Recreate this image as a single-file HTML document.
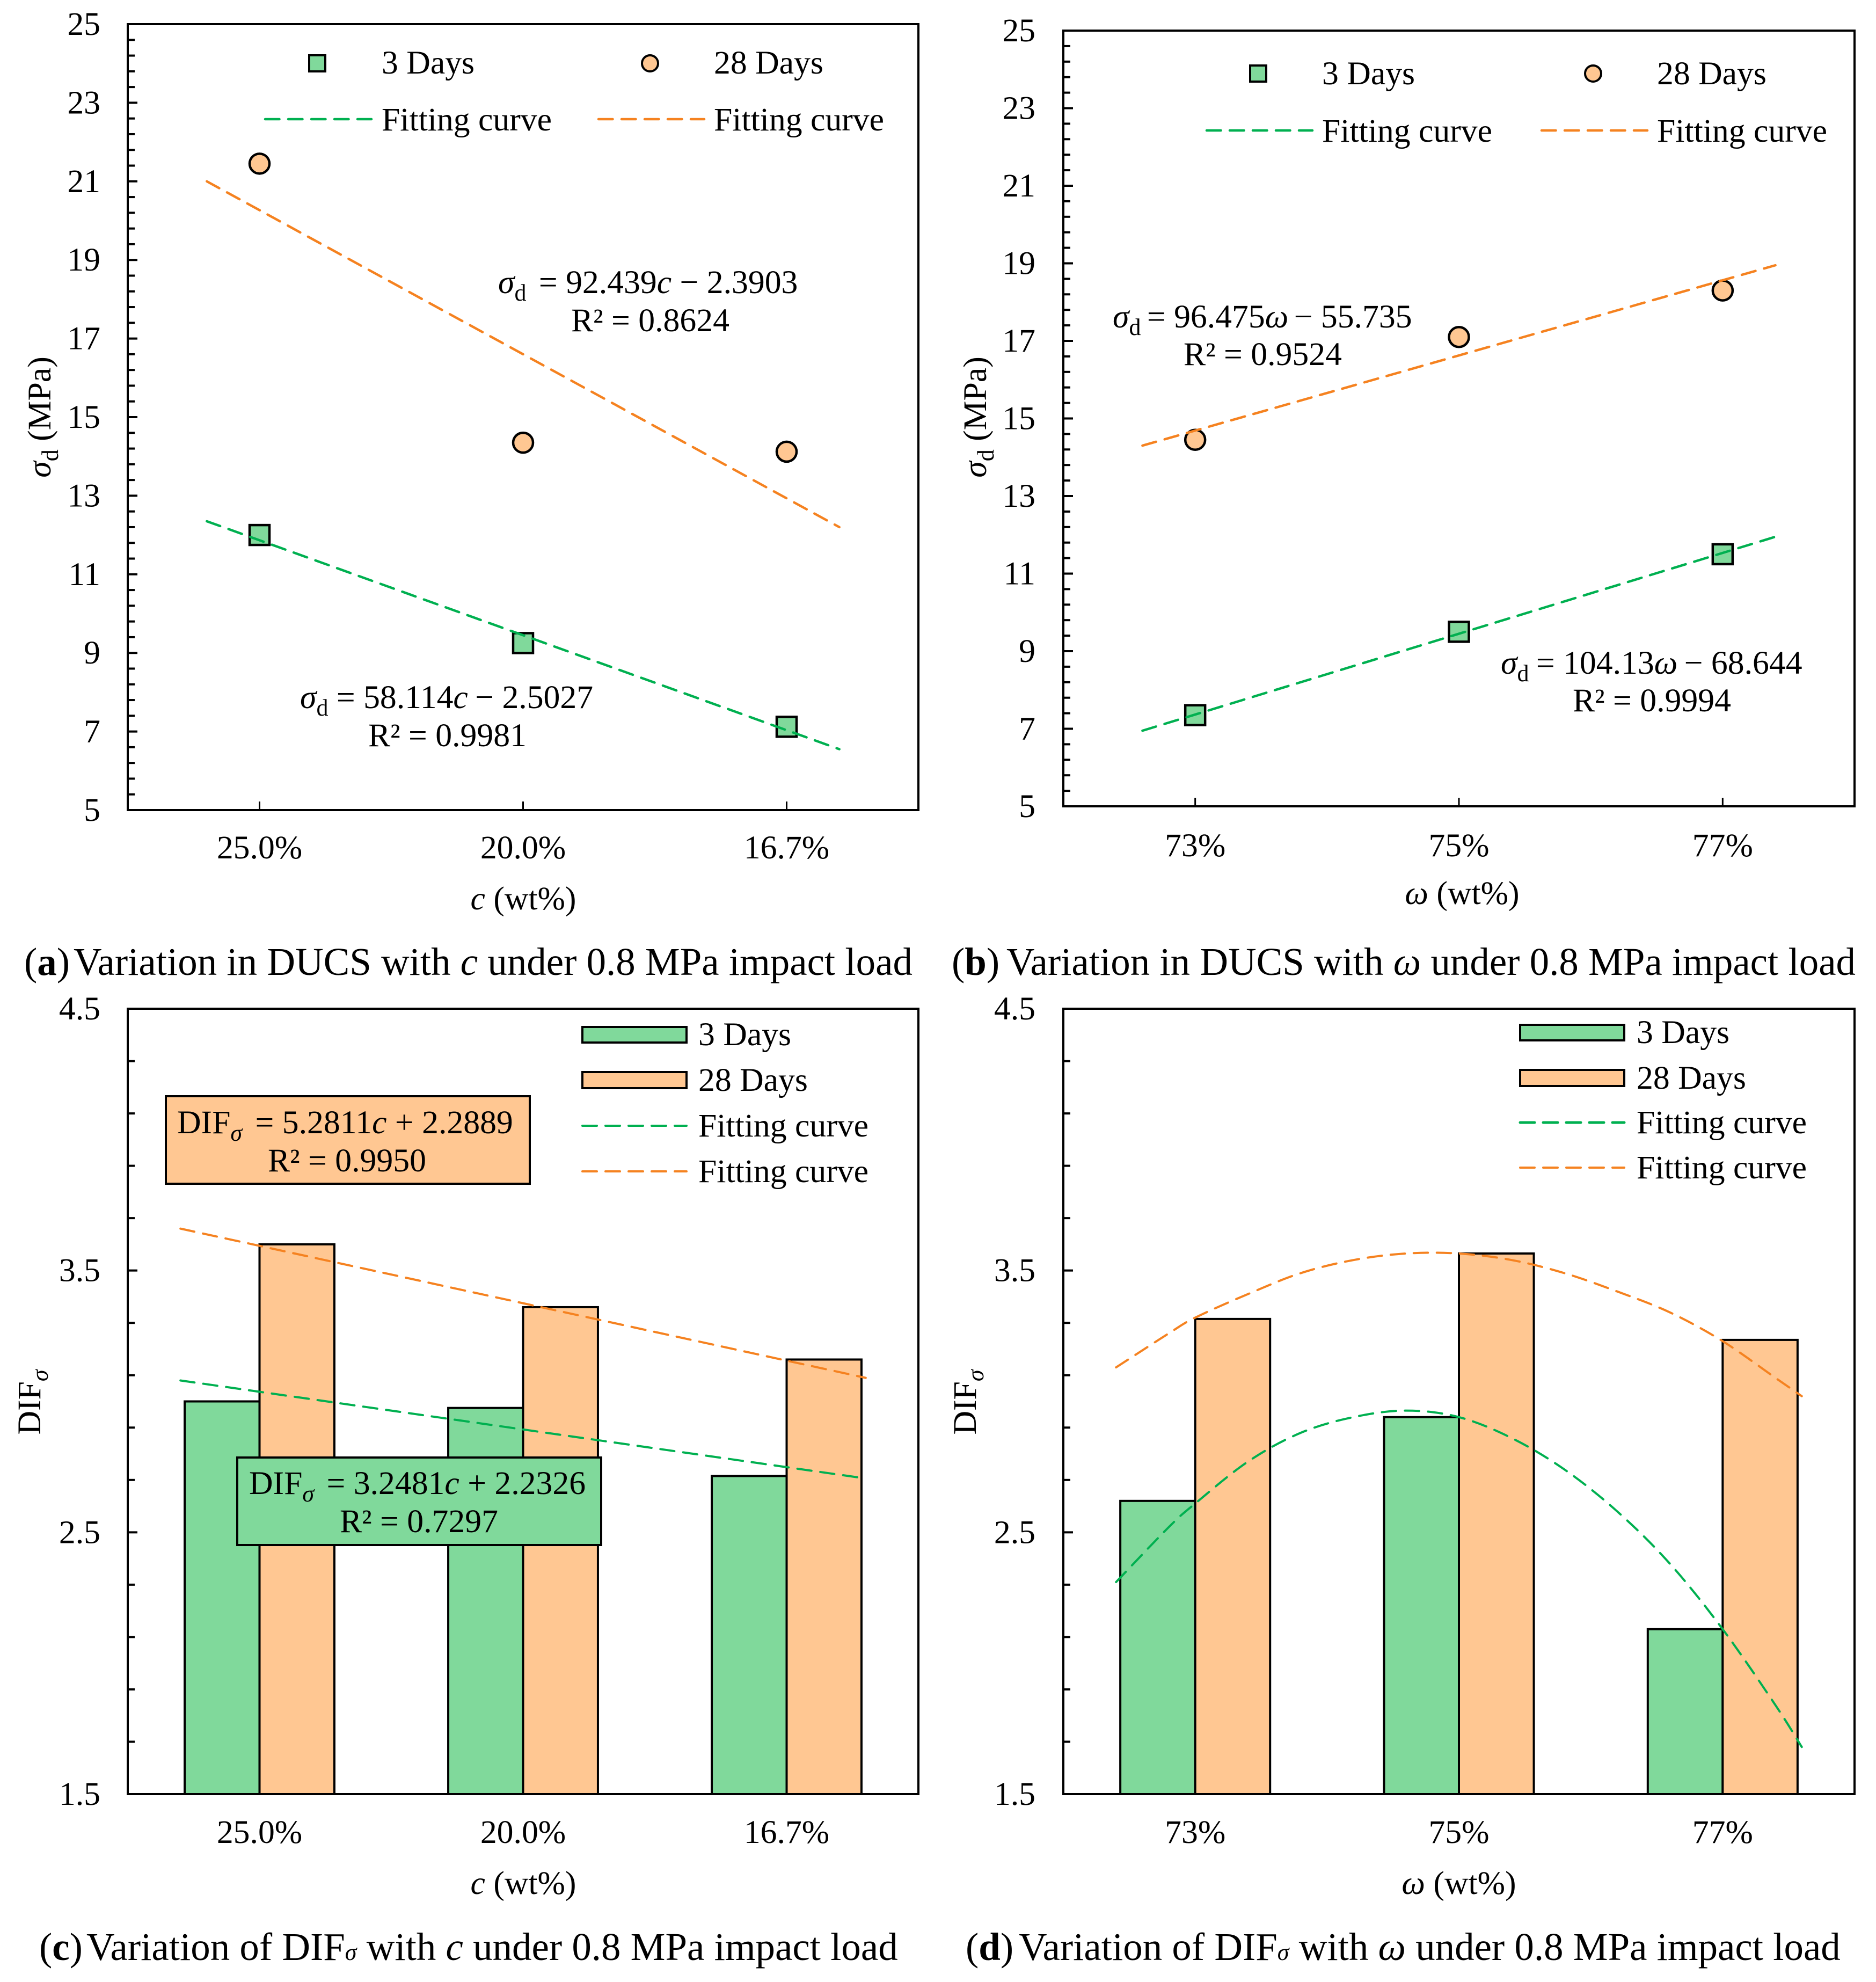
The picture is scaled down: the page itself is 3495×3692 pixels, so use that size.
<!DOCTYPE html>
<html>
<head>
<meta charset="utf-8">
<title>DUCS and DIF charts</title>
<style>
html,body{margin:0;padding:0;background:#fff;width:3495px;height:3692px;overflow:hidden}
svg{display:block}
text{font-family:"Liberation Serif",serif;fill:#000}
.t{font-size:61.7px}
.cap{font-size:72.9px}
.i{font-style:italic}
</style>
</head>
<body>
<svg id="fig" xmlns="http://www.w3.org/2000/svg" width="3495" height="3692" viewBox="0 0 3495 3692">
<rect x="0" y="0" width="3495" height="3692" fill="#fff"/>

<g id="pa"></g>
<g id="pb"></g>
<g id="pc"></g>
<g id="pd"></g>

<!-- Panel a text -->
<g>
<rect x="576" y="103" width="30" height="30" fill="#80D99B" stroke="#000" stroke-width="4"/>
<text class="t" x="711" y="137">3 Days</text>
<circle cx="1211" cy="118" r="15" fill="#FFC792" stroke="#000" stroke-width="4"/>
<text class="t" x="1330" y="137">28 Days</text>
<line x1="494" y1="222" x2="692" y2="222" stroke="#00B050" stroke-width="4.5" stroke-dasharray="26.5 16.5" stroke-linecap="round"/>
<text class="t" x="711" y="243">Fitting curve</text>
<line x1="1115" y1="222" x2="1312" y2="222" stroke="#F58220" stroke-width="4.5" stroke-dasharray="26.5 16.5" stroke-linecap="round"/>
<text class="t" x="1330" y="243">Fitting curve</text>
</g>
<text class="t" x="928" y="546"><tspan class="i">σ</tspan><tspan dy="14" font-size="44">d</tspan><tspan dy="-14" dx="8"> = 92.439</tspan><tspan class="i">c</tspan> − 2.3903</text>
<text class="t" x="1064" y="617">R² = 0.8624</text>
<text class="t" x="559" y="1319"><tspan class="i">σ</tspan><tspan dy="14" font-size="44">d</tspan><tspan dy="-14"> = 58.114</tspan><tspan class="i">c</tspan><tspan dx="-2"> − 2.5027</tspan></text>
<text class="t" x="686" y="1390">R² = 0.9981</text>
<text class="t" x="975" y="1694" text-anchor="middle"><tspan class="i">c</tspan> (wt%)</text>
<text class="t" transform="translate(94,777) rotate(-90)" text-anchor="middle"><tspan class="i">σ</tspan><tspan dy="14" font-size="44">d</tspan><tspan dy="-14"> (MPa)</tspan></text>
<text class="cap" x="45" y="1816">(<tspan font-weight="bold">a</tspan>)<tspan x="137">Variation in DUCS with </tspan><tspan class="i">c</tspan> under 0.8 MPa impact load</text>

<!-- Panel b text -->
<g>
<rect x="2329" y="122" width="30" height="30" fill="#80D99B" stroke="#000" stroke-width="4"/>
<text class="t" x="2463" y="157">3 Days</text>
<circle cx="2968" cy="137" r="15" fill="#FFC792" stroke="#000" stroke-width="4"/>
<text class="t" x="3087" y="157">28 Days</text>
<line x1="2248" y1="243" x2="2445" y2="243" stroke="#00B050" stroke-width="4.5" stroke-dasharray="26.5 16.5" stroke-linecap="round"/>
<text class="t" x="2463" y="264">Fitting curve</text>
<line x1="2872" y1="243" x2="3069" y2="243" stroke="#F58220" stroke-width="4.5" stroke-dasharray="26.5 16.5" stroke-linecap="round"/>
<text class="t" x="3087" y="264">Fitting curve</text>
</g>
<text class="t" x="2073" y="610"><tspan class="i">σ</tspan><tspan dy="14" font-size="44">d</tspan><tspan dy="-14" dx="-4"> = 96.475</tspan><tspan class="i">ω</tspan><tspan dx="-5"> − 55.735</tspan></text>
<text class="t" x="2205" y="680">R² = 0.9524</text>
<text class="t" x="2796" y="1255"><tspan class="i">σ</tspan><tspan dy="14" font-size="44">d</tspan><tspan dy="-14" dx="-2"> = 104.13</tspan><tspan class="i">ω</tspan><tspan dx="-3"> − 68.644</tspan></text>
<text class="t" x="2930" y="1325">R² = 0.9994</text>
<text class="t" x="2724" y="1684" text-anchor="middle"><tspan class="i">ω</tspan> (wt%)</text>
<text class="t" transform="translate(1837,777) rotate(-90)" text-anchor="middle"><tspan class="i">σ</tspan><tspan dy="14" font-size="44">d</tspan><tspan dy="-14"> (MPa)</tspan></text>
<text class="cap" x="1773" y="1816">(<tspan font-weight="bold">b</tspan>)<tspan x="1875">Variation in DUCS with </tspan><tspan class="i">ω</tspan> under 0.8 MPa impact load</text>

<!-- Panel c text -->
<g>
<rect x="309" y="2042" width="678" height="163" fill="#FFC792" stroke="#000" stroke-width="4"/>
<text class="t" x="330" y="2111">DIF<tspan class="i" dy="14" font-size="44">σ</tspan><tspan dy="-14" dx="9"> = 5.2811</tspan><tspan class="i">c</tspan> + 2.2889</text>
<text class="t" x="499" y="2182">R² = 0.9950</text>
</g>
<g>
<rect x="442" y="2715" width="678" height="163" fill="#80D99B" stroke="#000" stroke-width="4"/>
<text class="t" x="464" y="2783">DIF<tspan class="i" dy="14" font-size="44">σ</tspan><tspan dy="-14" dx="8"> = 3.2481</tspan><tspan class="i">c</tspan> + 2.2326</text>
<text class="t" x="633" y="2854">R² = 0.7297</text>
</g>
<g>
<rect x="1085" y="1913" width="194" height="29" fill="#80D99B" stroke="#000" stroke-width="4"/>
<text class="t" x="1301" y="1947">3 Days</text>
<rect x="1085" y="1997" width="194" height="30" fill="#FFC792" stroke="#000" stroke-width="4"/>
<text class="t" x="1301" y="2032">28 Days</text>
<line x1="1085" y1="2097" x2="1279" y2="2097" stroke="#00B050" stroke-width="4" stroke-dasharray="27 16" stroke-linecap="round"/>
<text class="t" x="1301" y="2117">Fitting curve</text>
<line x1="1085" y1="2182" x2="1279" y2="2182" stroke="#F58220" stroke-width="4" stroke-dasharray="27 16" stroke-linecap="round"/>
<text class="t" x="1301" y="2202">Fitting curve</text>
</g>
<text class="t" x="975" y="3528" text-anchor="middle"><tspan class="i">c</tspan> (wt%)</text>
<text class="t" transform="translate(75,2612) rotate(-90)" text-anchor="middle">DIF<tspan class="i" dy="14" font-size="44">σ</tspan></text>
<text class="cap" x="73" y="3651">(<tspan font-weight="bold">c</tspan>)<tspan x="161">Variation of DIF</tspan><tspan class="i" font-size="44">σ</tspan> with <tspan class="i">c</tspan> under 0.8 MPa impact load</text>

<!-- Panel d text -->
<g>
<rect x="2832" y="1909" width="194" height="29" fill="#80D99B" stroke="#000" stroke-width="4"/>
<text class="t" x="3049" y="1943">3 Days</text>
<rect x="2832" y="1993" width="194" height="30" fill="#FFC792" stroke="#000" stroke-width="4"/>
<text class="t" x="3049" y="2028">28 Days</text>
<line x1="2832" y1="2091" x2="3026" y2="2091" stroke="#00B050" stroke-width="5" stroke-dasharray="27 16" stroke-linecap="round"/>
<text class="t" x="3049" y="2111">Fitting curve</text>
<line x1="2832" y1="2175" x2="3026" y2="2175" stroke="#F58220" stroke-width="4" stroke-dasharray="27 16" stroke-linecap="round"/>
<text class="t" x="3049" y="2195">Fitting curve</text>
</g>
<text class="t" x="2718" y="3528" text-anchor="middle"><tspan class="i">ω</tspan> (wt%)</text>
<text class="t" transform="translate(1818,2612) rotate(-90)" text-anchor="middle">DIF<tspan class="i" dy="14" font-size="44">σ</tspan></text>
<text class="cap" x="1799" y="3651">(<tspan font-weight="bold">d</tspan>)<tspan x="1898">Variation of DIF</tspan><tspan class="i" font-size="44">σ</tspan> with <tspan class="i">ω</tspan> under 0.8 MPa impact load</text>
</svg>

<script>
// Shared tick labels and categories
const categoriesC = ['25.0%', '20.0%', '16.7%'];
const categoriesW = ['73%', '75%', '77%'];
const stressTickLabels = ['5', '7', '9', '11', '13', '15', '17', '19', '21', '23', '25'];
const difTickLabels = ['1.5', '2.5', '3.5', '4.5'];

// Panel a: sigma_d vs c
const a3Days = [12.0, 9.25, 7.12];
const a28Days = [21.45, 14.35, 14.12];
const aFitPos = [0.8, 3.2];
const aFit3Days = [12.35, 6.55];
const aFit28Days = [21.0, 12.2];

// Panel b: sigma_d vs omega
const b3Days = [7.35, 9.5, 11.5];
const b28Days = [14.45, 17.1, 18.3];
const bFitPos = [0.8, 3.2];
const bFit3Days = [6.95, 11.95];
const bFit28Days = [14.3, 18.95];

// Panel c: DIF vs c
const c3Days = [3.0, 2.975, 2.715];
const c28Days = [3.6, 3.36, 3.16];
const cFit3Pos = [0.7, 3.27];
const cFit28Pos = [0.7, 3.3];
const cFit3Days = [3.08, 2.71];
const cFit28Days = [3.66, 3.09];

// Panel d: DIF vs omega
const d3Days = [2.62, 2.94, 2.13];
const d28Days = [3.315, 3.565, 3.235];
const dFitPos = [0.7, 0.9, 1.0, 1.2, 1.4, 1.6, 1.8, 2.0, 2.2, 2.4, 2.6, 2.8, 3.0, 3.2, 3.3];
const dFit3Days = [2.31, 2.52, 2.61, 2.77, 2.88, 2.94, 2.965, 2.94, 2.86, 2.74, 2.58, 2.38, 2.13, 1.84, 1.68];
const dFit28Days = [3.13, 3.26, 3.32, 3.41, 3.49, 3.54, 3.565, 3.565, 3.54, 3.49, 3.42, 3.34, 3.23, 3.09, 3.02];

const NS = 'http://www.w3.org/2000/svg';
const GREEN_FILL = '#80D99B';
const ORANGE_FILL = '#FFC792';
const GREEN_LINE = '#00B050';
const ORANGE_LINE = '#F58220';

function svgEl(tag, props, parent) {
  const n = document.createElementNS(NS, tag);
  for (const k in props) n.setAttribute(k, props[k]);
  parent.appendChild(n);
  return n;
}

function makeAxes(id, box, yMin, yMax, minorStep, tickLabels, cats, labelY, labelRight) {
  const g = document.getElementById(id);
  const yOf = v => box.b - (v - yMin) / (yMax - yMin) * (box.b - box.t);
  const xOf = pos => box.l + (box.r - box.l) * (pos - 0.5) / 3;
  const marks = svgEl('g', {}, g);
  
  

  const frame = svgEl('rect', {x: box.l, y: box.t, width: box.r - box.l, height: box.b - box.t, fill: 'none', stroke: '#000', 'stroke-width': 4}, g);
  
  

  const nMinor = Math.round((yMax - yMin) / minorStep);
  const majorEvery = Math.round((Number(tickLabels[1]) - Number(tickLabels[0])) / minorStep);
  for (let i = 1; i < nMinor; i++) {
    const y = yOf(yMin + i * minorStep);
    const len = i % majorEvery === 0 ? 18 : 13;
    const tick = svgEl('line', {x1: box.l, x2: box.l + len, y1: y, y2: y, stroke: '#000', 'stroke-width': 4}, g);
    
    
  }
  tickLabels.forEach(label => {
    const t = svgEl('text', {x: labelRight, y: yOf(Number(label)) + 20, 'text-anchor': 'end', class: 't'}, g);
    t.textContent = label;
    
    
  });
  cats.forEach((label, i) => {
    const x = xOf(i + 1);
    const tick = svgEl('line', {x1: x, x2: x, y1: box.b, y2: box.b - 16, stroke: '#000', 'stroke-width': 3}, g);
    
    
    const t = svgEl('text', {x: x, y: labelY, 'text-anchor': 'middle', class: 't'}, g);
    t.textContent = label;
    
    
  });
  return {marks, xOf, yOf};
}

function drawFit(ax, positions, values, color, width) {
  const pts = positions.map((p, i) => [ax.xOf(p), ax.yOf(values[i])]);
  let d = 'M' + pts[0][0] + ' ' + pts[0][1];
  for (let i = 0; i < pts.length - 1; i++) {
    const p0 = pts[Math.max(i - 1, 0)];
    const p1 = pts[i];
    const p2 = pts[i + 1];
    const p3 = pts[Math.min(i + 2, pts.length - 1)];
    const c1x = p1[0] + (p2[0] - p0[0]) / 6;
    const c1y = p1[1] + (p2[1] - p0[1]) / 6;
    const c2x = p2[0] - (p3[0] - p1[0]) / 6;
    const c2y = p2[1] - (p3[1] - p1[1]) / 6;
    d += ' C' + c1x + ' ' + c1y + ' ' + c2x + ' ' + c2y + ' ' + p2[0] + ' ' + p2[1];
  }
  const line = svgEl('path', {d: d, fill: 'none', stroke: color, 'stroke-width': width, 'stroke-dasharray': '26.5 16.5', 'stroke-linecap': 'round', 'stroke-linejoin': 'round'}, ax.marks);
  
  
}

function drawSquares(ax, values) {
  values.forEach((v, i) => {
    const s = 37;
    const r = svgEl('rect', {x: ax.xOf(i + 1) - s / 2, y: ax.yOf(v) - s / 2, width: s, height: s, fill: GREEN_FILL, stroke: '#000', 'stroke-width': 4.5}, ax.marks);
    
    
  });
}

function drawCircles(ax, values) {
  values.forEach((v, i) => {
    const c = svgEl('circle', {cx: ax.xOf(i + 1), cy: ax.yOf(v), r: 18.5, fill: ORANGE_FILL, stroke: '#000', 'stroke-width': 4.5}, ax.marks);
    
    
  });
}

function drawBars(ax, box, values, fill, side) {
  const w = 0.284 * (box.r - box.l) / 3;
  values.forEach((v, i) => {
    const xc = ax.xOf(i + 1);
    const y = ax.yOf(v);
    const r = svgEl('rect', {x: side < 0 ? xc - w : xc, y: y, width: w, height: box.b - y, fill: fill, stroke: '#000', 'stroke-width': 4}, ax.marks);
    
    
  });
}

const boxA = {l: 238, r: 1711, t: 45, b: 1509};
const boxB = {l: 1981, r: 3455, t: 57, b: 1502};
const boxC = {l: 238, r: 1711, t: 1879, b: 3342};
const boxD = {l: 1981, r: 3455, t: 1879, b: 3342};

const axA = makeAxes('pa', boxA, 5, 25, 0.4, stressTickLabels, categoriesC, 1599, 187);
drawSquares(axA, a3Days);
drawCircles(axA, a28Days);
drawFit(axA, aFitPos, aFit3Days, GREEN_LINE, 4.5);
drawFit(axA, aFitPos, aFit28Days, ORANGE_LINE, 4.5);

const axB = makeAxes('pb', boxB, 5, 25, 0.4, stressTickLabels, categoriesW, 1595, 1929);
drawSquares(axB, b3Days);
drawCircles(axB, b28Days);
drawFit(axB, bFitPos, bFit3Days, GREEN_LINE, 4.5);
drawFit(axB, bFitPos, bFit28Days, ORANGE_LINE, 4.5);

const axC = makeAxes('pc', boxC, 1.5, 4.5, 0.2, difTickLabels, categoriesC, 3433, 187);
drawBars(axC, boxC, c3Days, GREEN_FILL, -1);
drawBars(axC, boxC, c28Days, ORANGE_FILL, 1);
drawFit(axC, cFit3Pos, cFit3Days, GREEN_LINE, 4);
drawFit(axC, cFit28Pos, cFit28Days, ORANGE_LINE, 4);

const axD = makeAxes('pd', boxD, 1.5, 4.5, 0.2, difTickLabels, categoriesW, 3433, 1929);
drawBars(axD, boxD, d3Days, GREEN_FILL, -1);
drawBars(axD, boxD, d28Days, ORANGE_FILL, 1);
drawFit(axD, dFitPos, dFit3Days, GREEN_LINE, 4);
drawFit(axD, dFitPos, dFit28Days, ORANGE_LINE, 4);
</script>
</body>
</html>
